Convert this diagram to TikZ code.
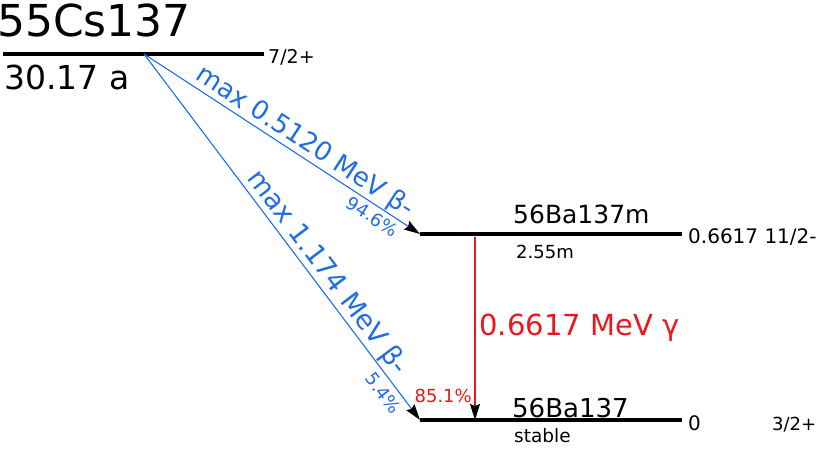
\documentclass[tikz,border=0pt]{standalone}
\usepackage{fontspec}
\setmainfont{DejaVu Sans}
\usepackage{xcolor}
\usetikzlibrary{arrows.meta, calc}
\definecolor{betablue}{RGB}{31,109,229}
\definecolor{gammared}{RGB}{236,22,30}

\begin{document}
\begin{tikzpicture}[x=1pt, y=-1pt,
    level/.style={line width=4pt},
    decay/.style={line width=1.1pt, -{Stealth[black, length=16pt, width=10pt, inset=2pt]}},
    txt/.style={inner sep=0pt, anchor=base west, font=\fontsize{#1}{#1}\selectfont},
    lbl/.style={sloped, inner sep=0pt, font=\fontsize{#1}{#1}\selectfont}
  ]
  \useasboundingbox (0,0) rectangle (820,453);

  \coordinate (S) at (144,54);
  \coordinate (CsL) at (3,54);
  \coordinate (CsR) at (264,54);
  \coordinate (BmL) at (420,234);
  \coordinate (BmR) at (682,234);
  \coordinate (BaL) at (420,420);
  \coordinate (BaR) at (682,420);
  \coordinate (GT) at (475,237);
  \coordinate (GB) at (475,420);

  \draw[level] (CsL) -- (CsR);
  \draw[level] (BmL) -- (BmR);
  \draw[level] (BaL) -- (BaR);

  \node[txt=44] (Cs) at (-3,36) {55Cs137};
  \node[txt=33] (CsT) at (4,89) {30.17 a};
  \node[txt=19] (CsJ) at (268,63) {7/2+};

  \node[txt=25] (Bm) at (513,223) {56Ba137m};
  \node[txt=18] (BmT) at (516,258) {2.55m};
  \node[txt=20] (BmE) at (688,243) {0.6617 11/2-};

  \node[txt=26] (Ba) at (512,417) {56Ba137};
  \node[txt=18.5] (BaT) at (514,442) {stable};
  \node[txt=20] (BaE) at (688,430) {0};
  \node[txt=18] (BaJ) at (772,430) {3/2+};

  \draw[decay, betablue] (S) --
    node (B1) [lbl=26, pos=0.555, above=1pt] {max 0.5120 MeV β-}
    node (P1) [lbl=18, pos=0.85, below=4pt] {94.6\%} (BmL);
  \draw[decay, betablue] (S) --
    node (B2) [lbl=27, pos=0.622, above=1pt] {max 1.174 MeV β-}
    node (P2) [lbl=18, pos=0.905, below=6pt] {5.4\%} (BaL);

  \draw[decay, gammared] (GT) --
    node (G) [txt=29, pos=0.54, xshift=4pt] {0.6617 MeV γ} (GB);
  \node[txt=18, anchor=base east, gammared] (P3) at (472,402) {85.1\%};
\end{tikzpicture}
\end{document}
